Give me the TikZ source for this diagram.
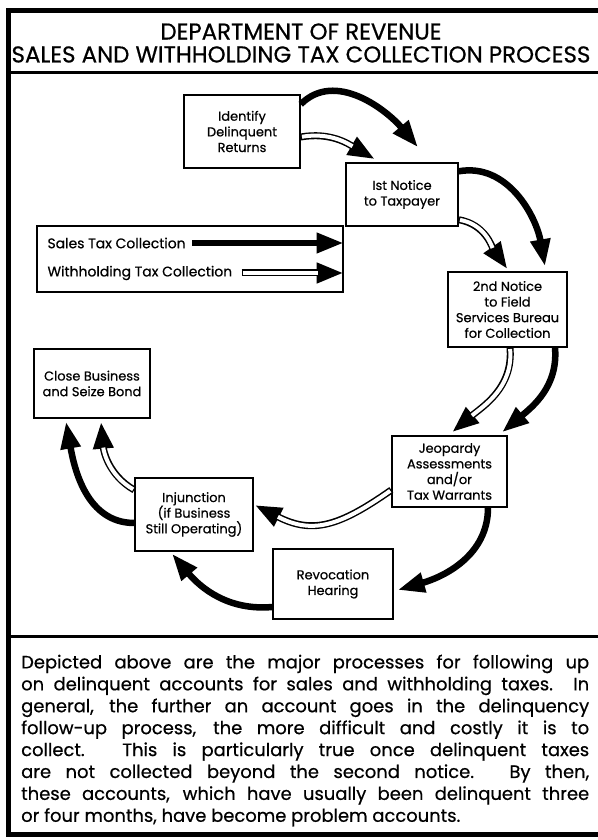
\documentclass[tikz,border=0pt]{standalone}
\usepackage{fontspec}
\setmainfont{Poppins}[FakeBold=0.6]
\usetikzlibrary{arrows.meta, positioning, calc}

\begin{document}
\begin{tikzpicture}[x=1bp, y=1bp, every node/.style={font=\fontsize{13}{15.7}\selectfont}]
    % Define styles
    \tikzstyle{stage} = [rectangle, draw=black, line width=1.4bp, minimum width=117bp, minimum height=71bp, align=center, inner sep=1pt]
    \tikzstyle{sales} = [line width=6.5bp, -{Triangle[length=27bp, width=19bp]}]
    \tikzstyle{withhold} = [line width=7bp, -{Triangle[length=27bp, width=19bp]}, postaction={draw=white, line width=4bp, -, shorten <=1.3bp, shorten >=26bp}]
    \tikzstyle{rule} = [line width=3bp]

    \useasboundingbox (0,0) rectangle (598,840);

    % Frame and title
    \draw [line width=5bp] (8,829) rectangle (601,5.5);
    \node (title) [align=center, font=\fontsize{23}{23}\selectfont] at (301,797) {DEPARTMENT OF REVENUE\\SALES AND WITHHOLDING TAX COLLECTION PROCESS};
    \draw [rule] (8,767) -- (601,767);
    \draw [rule] (8,203) -- (601,203);

    % Process steps
    \node (identify) [stage, minimum width=116bp, minimum height=73bp] at (242,708.5) {Identify\\Delinquent\\Returns};
    \node (notice1) [stage, minimum width=112bp, minimum height=63bp] at (402,645.5) {Ist Notice\\to Taxpayer};
    \node (notice2) [stage, minimum width=119bp, minimum height=75bp] at (507.5,530.5) {2nd Notice\\to Field\\Services Bureau\\for Collection};
    \node (jeopardy) [stage, minimum width=115bp] at (449.5,368.5) {Jeopardy\\Assessments\\and/or\\Tax Warrants};
    \node (revoke) [stage, minimum width=120bp, minimum height=70bp] at (333,256) {Revocation\\Hearing};
    \node (injunct) [stage, minimum width=118bp, minimum height=73bp] at (194,325.5) {Injunction\\(if Business\\Still Operating)};
    \node (closebiz) [stage, minimum width=116bp, minimum height=69bp] at (92,456.5) {Close Business\\and Seize Bond};

    % Legend
    \node (legend) [stage, minimum width=306bp, minimum height=66bp] at (190,581) {};
    \node (legsales) [anchor=west, font=\fontsize{14}{16}\selectfont] at (44,597) {Sales Tax Collection};
    \node (legwith) [anchor=west, font=\fontsize{14}{16}\selectfont] at (44,567) {Withholding Tax Collection};
    \draw [sales] ([xshift=3bp]legsales.east) -- (legsales.east -| legend.east);
    \draw [withhold] ([xshift=6bp]legwith.east) -- (legwith.east -| legend.east);

    % Sales tax path
    \draw [sales] ([yshift=-10bp]identify.north east) to[out=45, in=130] ([shift={(16bp,15bp)}]notice1.north);
    \draw [sales] ([yshift=-9bp]notice1.north east) to[out=10, in=100] ([shift={(37.5bp,5bp)}]notice2.north);
    \draw [sales] ([xshift=47.5bp]notice2.south) to[out=-85, in=40] ([shift={(52.5bp,3bp)}]jeopardy.north);
    \draw [sales] ([xshift=38.5bp]jeopardy.south) to[out=-90, in=16] ([shift={(4bp,-6bp)}]revoke.east);
    \draw [sales] ([yshift=-23bp]revoke.west) to[out=185, in=-50] ([shift={(-22bp,-2bp)}]injunct.south);
    \draw [sales] ([yshift=-8.5bp]injunct.west) to[out=180, in=-80] ([shift={(-26bp,-3bp)}]closebiz.south);

    % Withholding tax path
    \draw [withhold] ([yshift=-5.5bp]identify.east) to[out=10, in=150] ([shift={(-27bp,3bp)}]notice1.north);
    \draw [withhold] ([yshift=7bp]notice1.south east) to[out=-10, in=125] ([yshift=2bp]notice2.north);
    \draw [withhold] ([xshift=2.5bp]notice2.south) to[out=-85, in=40] ([shift={(2.5bp,3bp)}]jeopardy.north);
    \draw [withhold] ([yshift=-18.5bp]jeopardy.west) to[out=-145, in=-27, looseness=1.2] ([shift={(1bp,9.5bp)}]injunct.east);
    \draw [withhold] ([yshift=24.5bp]injunct.west) to[out=150, in=-85] ([shift={(9bp,-3bp)}]closebiz.south);

    % Summary text
    \node (summary) [anchor=north west, text width=568bp, align=justify, inner sep=0pt, font=\fontsize{18}{22}\selectfont] at (21,185.5) {Depicted above are the major processes for following up\linebreak on delinquent accounts for sales and withholding taxes. In\linebreak general, the further an account goes in the delinquency\linebreak follow-up process, the more difficult and costly it is to\linebreak collect. This is particularly true once delinquent taxes\linebreak are not collected beyond the second notice. By then,\linebreak these accounts, which have usually been delinquent three\linebreak or four months, have become problem accounts.};
\end{tikzpicture}
\end{document}
